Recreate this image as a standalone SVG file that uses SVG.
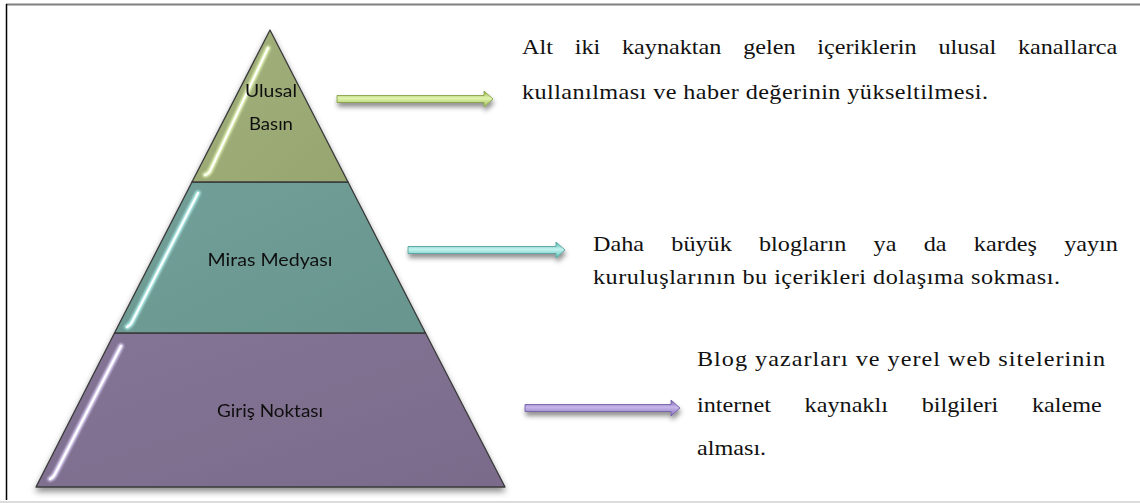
<svg xmlns="http://www.w3.org/2000/svg" width="1140" height="503" viewBox="0 0 1140 503">
<style>
  .tier { stroke: #3a3a3a; stroke-width: 1.3; stroke-linejoin: round; }
  .lbl { font-family: Lato, "Open Sans", "Liberation Sans", sans-serif; font-size: 18px; fill: #111; text-anchor: middle; }
  .desc { font-family: "Liberation Serif", "Times New Roman", serif; font-size: 22px; fill: #111; }
  .hl { fill: none; stroke-linecap: round; }
</style>
<defs>
  <filter id="shadow" x="-10%" y="-10%" width="120%" height="130%">
    <feDropShadow dx="0" dy="4" stdDeviation="3" flood-color="#000" flood-opacity="0.45"/>
  </filter>
  <filter id="ashadow" x="-10%" y="-100%" width="120%" height="400%">
    <feDropShadow dx="1" dy="4" stdDeviation="2.5" flood-color="#000" flood-opacity="0.45"/>
  </filter>
  <filter id="glow" x="-20%" y="-20%" width="140%" height="140%">
    <feGaussianBlur stdDeviation="0.8"/>
  </filter>
  <linearGradient id="gTop" x1="0" y1="0" x2="1" y2="1">
    <stop offset="0" stop-color="#a2b07c"/>
    <stop offset="1" stop-color="#97a670"/>
  </linearGradient>
  <linearGradient id="gMid" x1="0" y1="0" x2="1" y2="1">
    <stop offset="0" stop-color="#72a099"/>
    <stop offset="1" stop-color="#68968f"/>
  </linearGradient>
  <linearGradient id="gBot" x1="0" y1="0" x2="1" y2="1">
    <stop offset="0" stop-color="#847495"/>
    <stop offset="1" stop-color="#7b6b8b"/>
  </linearGradient>
  <linearGradient id="aGreen" x1="0" y1="0" x2="0" y2="1">
    <stop offset="0" stop-color="#8fae45"/>
    <stop offset="0.45" stop-color="#e2f5b0"/>
    <stop offset="1" stop-color="#9cbc55"/>
  </linearGradient>
  <linearGradient id="aTeal" x1="0" y1="0" x2="0" y2="1">
    <stop offset="0" stop-color="#4fb3ad"/>
    <stop offset="0.45" stop-color="#c4f3ef"/>
    <stop offset="1" stop-color="#5cc0ba"/>
  </linearGradient>
  <linearGradient id="aPurple" x1="0" y1="0" x2="0" y2="1">
    <stop offset="0" stop-color="#7a62b0"/>
    <stop offset="0.45" stop-color="#c7b6ea"/>
    <stop offset="1" stop-color="#8670bd"/>
  </linearGradient>
</defs>

<rect x="0" y="0" width="1140" height="503" fill="#ffffff"/>
<!-- frame -->
<line x1="6" y1="4.5" x2="1140" y2="4.5" stroke="#808080" stroke-width="2"/>
<line x1="6.5" y1="4" x2="6.5" y2="500" stroke="#000" stroke-width="1.5"/>
<rect x="0" y="501" width="1140" height="2" fill="#dcdcdc"/>

<!-- pyramid -->
<g id="pyramid" filter="url(#shadow)">
  <g id="node-giris">
    <polygon class="tier" points="114.5,333 425.5,333 505,487 36,487" fill="url(#gBot)"/>
    <path class="hl" d="M121,346 L55,474 Q53,478 50,479" stroke="#e6dcff" stroke-width="5" filter="url(#glow)"/>
    <path class="hl" d="M121,346 L55,474 Q53,478 50,479" stroke="#ffffff" stroke-width="2"/>
    <text class="lbl" x="270" y="417" textLength="106" lengthAdjust="spacingAndGlyphs">Giriş Noktası</text>
  </g>
  <g id="node-miras">
    <polygon class="tier" points="192,182 348,182 425.5,333 114.5,333" fill="url(#gMid)"/>
    <path class="hl" d="M198,193 L133,320 Q131,325 127,327" stroke="#b8f4f2" stroke-width="5" filter="url(#glow)"/>
    <path class="hl" d="M198,193 L133,320 Q131,325 127,327" stroke="#ffffff" stroke-width="2"/>
    <text class="lbl" x="270" y="266" textLength="125" lengthAdjust="spacingAndGlyphs">Miras Medyası</text>
  </g>
  <g id="node-ulusal">
    <polygon class="tier" points="270,30 348,182 192,182" fill="url(#gTop)"/>
    <path class="hl" d="M268,48 L211,169 Q209,174 205,175" stroke="#e6f7b8" stroke-width="5" filter="url(#glow)"/>
    <path class="hl" d="M268,48 L211,169 Q209,174 205,175" stroke="#ffffff" stroke-width="2"/>
    <text class="lbl" x="271" y="97" textLength="52" lengthAdjust="spacingAndGlyphs">Ulusal</text>
    <text class="lbl" x="271" y="130" textLength="44" lengthAdjust="spacingAndGlyphs">Basın</text>
  </g>
</g>

<!-- connectors -->
<g id="connectors" filter="url(#ashadow)">
  <polygon points="337,95.5 484,95.5 484,91 493,99 484,107 484,102.5 337,102.5" fill="url(#aGreen)" stroke="#7f9a3e" stroke-width="0.8"/>
  <polygon points="408,246.5 556,246.5 556,242 565,250 556,258 556,253.5 408,253.5" fill="url(#aTeal)" stroke="#4a9c96" stroke-width="0.8"/>
  <polygon points="525,404.5 671,404.5 671,400 680,408 671,416 671,411.5 525,411.5" fill="url(#aPurple)" stroke="#6a55a0" stroke-width="0.8"/>
</g>

<!-- descriptions -->
<g id="desc-ulusal">
  <g transform="translate(522 0) scale(1.1 1)">
    <text class="desc" x="0" y="54" word-spacing="14.3">Alt iki kaynaktan gelen içeriklerin ulusal kanallarca</text>
    <text class="desc" x="0" y="99" textLength="423.6" lengthAdjust="spacing">kullanılması ve haber değerinin yükseltilmesi.</text>
  </g>
</g>
<g id="desc-miras">
  <g transform="translate(593 0) scale(1.1 1)">
    <text class="desc" x="0" y="251" word-spacing="19.3">Daha büyük blogların ya da kardeş yayın</text>
    <text class="desc" x="0" y="284" textLength="424.5" lengthAdjust="spacing">kuruluşlarının bu içerikleri dolaşıma sokması.</text>
  </g>
</g>
<g id="desc-giris">
  <g transform="translate(697 0) scale(1.1 1)">
    <text class="desc" x="0" y="366" textLength="371" lengthAdjust="spacing">Blog yazarları ve yerel web sitelerinin</text>
    <text class="desc" x="0" y="412" word-spacing="25.2">internet kaynaklı bilgileri kaleme</text>
    <text class="desc" x="0" y="455">alması.</text>
  </g>
</g>
</svg>
